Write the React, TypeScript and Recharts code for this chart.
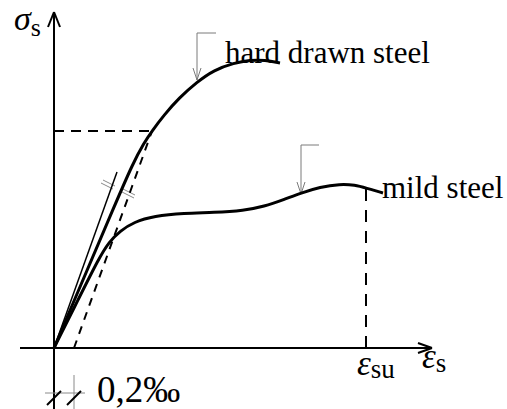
import React from "react";
import {
  ComposedChart,
  Line,
  XAxis,
  YAxis,
  ReferenceLine,
  ReferenceDot,
} from "recharts";

// strain in ‰, stress in MPa (schematic)
const hardDrawn = [
  { x: 0, y: 0 },
  { x: 0.3, y: 141 },
  { x: 0.6, y: 282 },
  { x: 0.79, y: 370 },
  { x: 0.9, y: 410 },
  { x: 0.98, y: 434 },
  { x: 1.1, y: 466 },
  { x: 1.25, y: 500 },
  { x: 1.43, y: 532 },
  { x: 1.6, y: 556 },
  { x: 1.8, y: 570 },
  { x: 1.96, y: 576 },
  { x: 2.11, y: 576 },
  { x: 2.26, y: 570 },
];

const mild = [
  { x: 0, y: 0 },
  { x: 0.25, y: 100 },
  { x: 0.45, y: 180 },
  { x: 0.55, y: 212 },
  { x: 0.66, y: 234 },
  { x: 0.8, y: 252 },
  { x: 1.0, y: 264 },
  { x: 1.3, y: 270 },
  { x: 1.6, y: 271 },
  { x: 1.9, y: 275 },
  { x: 2.1, y: 283 },
  { x: 2.3, y: 297 },
  { x: 2.47, y: 310 },
  { x: 2.66, y: 322 },
  { x: 2.86, y: 328 },
  { x: 3.01, y: 326 },
  { x: 3.12, y: 320 },
  { x: 3.29, y: 310 },
];

const tangent = [
  { x: 0, y: 0 },
  { x: 0.63, y: 352 },
];

const offsetLine = [
  { x: 0.2, y: 0 },
  { x: 0.98, y: 434 },
];

const proofStress = 434;
const proofStrain = 0.98;
const epsSu = 3.12;
const epsSuStress = 326;

// [x1, y1, x2, y2]
const axisSegments = [
  [-0.34, 0, 3.78, 0],
  [3.78, 0, 3.64, 10],
  [3.78, 0, 3.64, -10],
  [0, -122, 0, 672],
  [0, 672, -0.06, 642],
  [0, 672, 0.06, 642],
];

const calloutSegments = [
  [1.43, 536, 1.43, 630],
  [1.43, 630, 1.62, 630],
  [1.43, 536, 1.39, 560],
  [1.43, 536, 1.47, 560],
  [2.47, 308, 2.47, 406],
  [2.47, 406, 2.65, 406],
  [2.47, 308, 2.43, 332],
  [2.47, 308, 2.51, 332],
];

const tickSegments = [
  [0.47, 330, 0.59, 318],
  [0.49, 336, 0.61, 324],
  [0.68, 312, 0.8, 300],
  [0.69, 318, 0.81, 306],
  [0.2, -54, 0.2, -122],
];

const slashSegments = [
  [-0.07, -114, 0.07, -86],
  [0.13, -114, 0.27, -86],
];

const dimSegments = [[-0.09, -90, 0.31, -90]];

const FONT = "'Liberation Serif', 'Times New Roman', serif";

type Lbl = {
  x: number;
  y: number;
  main: string;
  sub?: string;
  size: number;
  subSize?: number;
  italic?: boolean;
  dy?: number;
};

const labels: Lbl[] = [
  { x: 1.71, y: 570, main: "hard drawn steel", size: 31 },
  { x: 3.28, y: 300, main: "mild steel", size: 31 },
  { x: 0.43, y: -108, main: "0,2‰", size: 37 },
  { x: -0.4, y: 636, main: "σ", sub: "s", size: 34, subSize: 26, italic: true, dy: 6 },
  { x: 3.03, y: -54, main: "ε", sub: "su", size: 35, subSize: 27, italic: true, dy: 3 },
  { x: 3.68, y: -40, main: "ε", sub: "s", size: 35, subSize: 27, italic: true, dy: 4 },
];

const TextShape = (lbl: Lbl) => (props: any) => (
  <text
    x={props.cx}
    y={props.cy}
    fontFamily={FONT}
    fontSize={lbl.size}
    fill="#000"
  >
    <tspan fontStyle={lbl.italic ? "italic" : "normal"}>{lbl.main}</tspan>
    {lbl.sub && (
      <tspan fontSize={lbl.subSize} dy={lbl.dy}>
        {lbl.sub}
      </tspan>
    )}
  </text>
);

const seg = (s: number[], i: number, stroke: string, w: number, dash?: string) => (
  <ReferenceLine
    key={`${stroke}-${w}-${i}-${s.join("_")}`}
    segment={[
      { x: s[0], y: s[1] },
      { x: s[2], y: s[3] },
    ]}
    stroke={stroke}
    strokeWidth={w}
    strokeDasharray={dash}
    ifOverflow="visible"
  />
);

export default function App() {
  return (
    <div style={{ position: "absolute", left: 0, top: 0, background: "#fff" }}>
      <ComposedChart
        width={507}
        height={409}
        margin={{ top: 0, right: 0, bottom: 0, left: 0 }}
      >
        <XAxis dataKey="x" type="number" domain={[-0.54, 4.53]} hide />
        <YAxis type="number" domain={[-122, 696]} hide />

        {axisSegments.map((s, i) => seg(s, i, "#000", 2))}
        {calloutSegments.map((s, i) => seg(s, i, "#7a7a7a", 1))}
        {tickSegments.map((s, i) => seg(s, i, "#8a8a8a", 1))}
        {dimSegments.map((s, i) => seg(s, i, "#8a8a8a", 1))}
        {slashSegments.map((s, i) => seg(s, i, "#000", 2))}

        {/* 0,2‰ proof stress */}
        <ReferenceLine
          segment={[
            { x: 0, y: proofStress },
            { x: proofStrain, y: proofStress },
          ]}
          stroke="#000"
          strokeWidth={2}
          strokeDasharray="10 7"
        />
        {/* ultimate strain */}
        <ReferenceLine
          segment={[
            { x: epsSu, y: 0 },
            { x: epsSu, y: epsSuStress },
          ]}
          stroke="#000"
          strokeWidth={2}
          strokeDasharray="12 9"
        />

        <Line
          data={offsetLine}
          dataKey="y"
          type="linear"
          stroke="#000"
          strokeWidth={2}
          strokeDasharray="8 7"
          dot={false}
          activeDot={false}
          isAnimationActive={false}
        />
        <Line
          data={tangent}
          dataKey="y"
          type="linear"
          stroke="#000"
          strokeWidth={1.5}
          dot={false}
          activeDot={false}
          isAnimationActive={false}
        />
        <Line
          data={hardDrawn}
          dataKey="y"
          type="basis"
          stroke="#000"
          strokeWidth={3}
          dot={false}
          activeDot={false}
          isAnimationActive={false}
        />
        <Line
          data={mild}
          dataKey="y"
          type="basis"
          stroke="#000"
          strokeWidth={3}
          dot={false}
          activeDot={false}
          isAnimationActive={false}
        />

        {labels.map((l, i) => (
          <ReferenceDot
            key={`lbl-${i}`}
            x={l.x}
            y={l.y}
            r={0}
            ifOverflow="visible"
            shape={TextShape(l)}
          />
        ))}
      </ComposedChart>
    </div>
  );
}
